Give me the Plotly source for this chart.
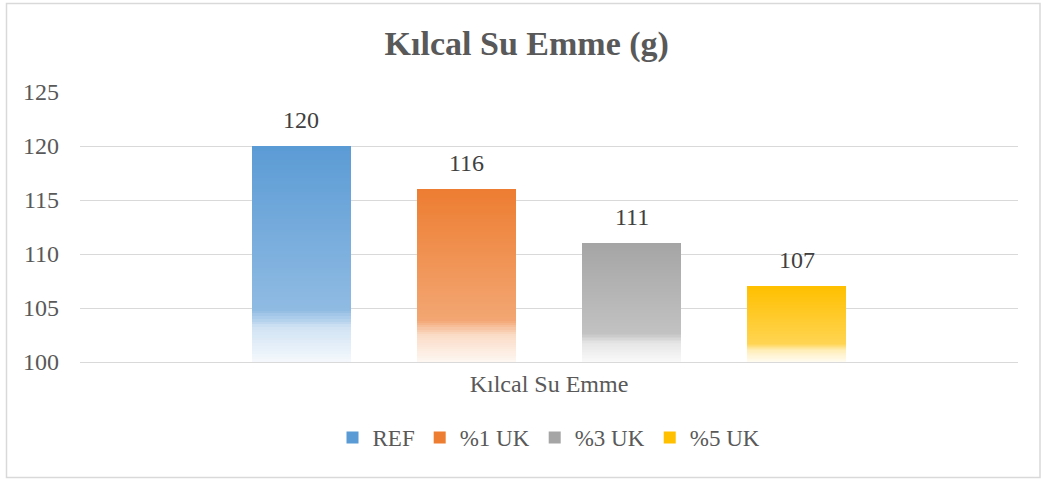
import plotly.graph_objects as go

series = ["REF", "%1 UK", "%3 UK", "%5 UK"]
values = [120, 116, 111, 107]
colors = ["#5B9BD5", "#ED7D31", "#A5A5A5", "#FFC000"]
category = "Kılcal Su Emme"
title = "Kılcal Su Emme (g)"
y_min, y_max, y_step = 100, 125, 5

FONT = "Liberation Serif"

def hex2rgb(h):
    h = h.lstrip("#")
    return tuple(int(h[i:i + 2], 16) for i in (0, 2, 4))

def mix(c, t):
    r, g, b = hex2rgb(c)
    return "rgb(%d,%d,%d)" % (round(r + (255 - r) * t), round(g + (255 - g) * t), round(b + (255 - b) * t))

# gradient stops (fraction from top of bar, whiteness)
stops = [(0.0, 0.0), (0.76, 0.32), (0.84, 0.72), (1.0, 0.94)]

def whiteness(f):
    for (f0, w0), (f1, w1) in zip(stops, stops[1:]):
        if f0 <= f <= f1:
            return w0 + (w1 - w0) * (f - f0) / (f1 - f0)
    return stops[-1][1]

xs = list(range(len(series)))
N = 80
bar_w = 0.595
fig = go.Figure()

# gradient bars: segments drawn from bottom (lightest) to top, each reaching to bar top
for k in range(N):
    frac_bottom = k / N
    bases = [y_min + (v - y_min) * frac_bottom for v in values]
    heights = [v - b for v, b in zip(values, bases)]
    cols = [mix(c, whiteness(1 - (k + 0.5) / N)) for c in colors]
    fig.add_trace(go.Bar(x=xs, y=heights, base=bases, width=bar_w,
                         marker=dict(color=cols, line=dict(width=0)),
                         showlegend=False, hoverinfo="skip"))

# legend entries
for s, c in zip(series, colors):
    fig.add_trace(go.Bar(x=[None], y=[None], name=s, marker=dict(color=c, line=dict(width=0))))

# data labels
for x, v in zip(xs, values):
    fig.add_annotation(x=x, y=v, text=str(v), showarrow=False, yanchor="bottom", yshift=11,
                       font=dict(family=FONT, size=24, color="#404040"))

fig.update_layout(
    width=1041, height=479,
    margin=dict(l=80, r=23, t=92, b=117),
    paper_bgcolor="white", plot_bgcolor="white",
    barmode="overlay", bargap=0,
    title=dict(text="<b>" + title + "</b>", x=0.506, xanchor="center", y=0.91, yanchor="middle",
               font=dict(family=FONT, size=34, color="#595959")),
    font=dict(family=FONT, size=24, color="#595959"),
    showlegend=True,
    legend=dict(orientation="h", x=0.5, xanchor="center", y=-0.2, yanchor="top",
                font=dict(family=FONT, size=23, color="#595959"),
                itemwidth=30, traceorder="normal"),
    xaxis=dict(range=[-1.342, 4.342], tickvals=[1.5], ticktext=[category],
               showgrid=False, zeroline=False, showline=True, linecolor="#D9D9D9", linewidth=1,
               ticks="", tickfont=dict(family=FONT, size=24, color="#595959"), fixedrange=True),
    yaxis=dict(range=[y_min, y_max], dtick=y_step, tick0=y_min, showgrid=True, gridcolor="#D9D9D9",
               gridwidth=1, zeroline=False, showline=False, ticks="", ticklabelstandoff=20,
               tickfont=dict(family=FONT, size=24, color="#595959")),
)

# outer chart border
W, H = 1041, 479
l, r, t, b = 80, 23, 92, 117
pw, ph = W - l - r, H - t - b
def px(xp):
    return (xp - l) / pw
def py(yp):
    return (H - b - yp) / ph
fig.add_shape(type="rect", xref="paper", yref="paper",
              x0=px(6.5), x1=px(1040), y0=py(477.5), y1=py(3.5),
              line=dict(color="#D9D9D9", width=1.5), layer="below")

fig.write_html("out.html", config={"displayModeBar": False},
               post_script="document.body.style.margin='0';document.body.style.overflow='hidden';")
